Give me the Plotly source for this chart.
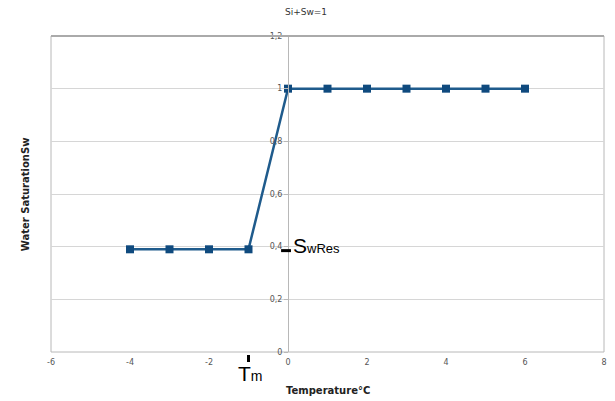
import plotly.graph_objects as go

# Data
temps = [-4, -3, -2, -1, 0, 1, 2, 3, 4, 5, 6]
sw = [0.39, 0.39, 0.39, 0.39, 1, 1, 1, 1, 1, 1, 1]

x_ticks = [-6, -4, -2, 0, 2, 4, 6, 8]
y_ticks = [0, 0.2, 0.4, 0.6, 0.8, 1, 1.2]
y_ticktext = ["0", "0,2", "0,4", "0,6", "0,8", "1", "1,2"]

title_text = "Si+Sw=1"
x_title = "Temperature°C"
y_title = "Water SaturationSw"
tm_x = -1
swres_y = 0.385

L, R, T, B = 51, 8, 36, 49
W, H = 615, 401
pw, ph = W - L - R, H - T - B

fig = go.Figure()
fig.add_trace(go.Scatter(
    x=temps, y=sw, mode="lines+markers",
    line=dict(color="#1f5b8c", width=2.5),
    marker=dict(symbol="square", size=8, color="#0f4a7e"),
    showlegend=False,
))

grid = "#d6d6d6"
frame = "#b8b8b8"
tickfont = dict(family="DejaVu Sans", size=8, color="#555555")

fig.update_layout(
    width=W, height=H,
    margin=dict(l=L, r=R, t=T, b=B),
    paper_bgcolor="white", plot_bgcolor="white",
    xaxis=dict(
        range=[-6, 8], tickvals=x_ticks, ticktext=[str(v) for v in x_ticks],
        showgrid=False, zeroline=False, showline=False,
        tickfont=tickfont, ticks="", ticklabelstandoff=4,
    ),
    yaxis=dict(
        range=[0, 1.2], tickvals=y_ticks, ticktext=y_ticktext,
        showgrid=True, gridcolor=grid, gridwidth=1, zeroline=False,
        anchor="free", position=6 / 14, showline=True, linecolor=frame,
        ticks="outside", ticklen=4, tickcolor=frame,
        tickfont=tickfont,
    ),
    shapes=[
        dict(type="rect", xref="paper", yref="paper", x0=0, x1=1, y0=0, y1=1,
             line=dict(color=frame, width=1), layer="below"),
        dict(type="line", xref="paper", yref="paper", x0=0, x1=1, y0=1, y1=1,
             line=dict(color="#aaaaaa", width=2)),
        dict(type="line", xref="x", yref="paper", x0=tm_x, x1=tm_x,
             y0=-3 / ph, y1=-10 / ph, line=dict(color="black", width=3)),
        dict(type="line", xref="x", yref="y", x0=-0.175, x1=0.075,
             y0=swres_y, y1=swres_y, line=dict(color="black", width=3)),
    ],
    annotations=[
        dict(text=title_text, xref="paper", yref="paper", x=(307 - L) / pw,
             y=1 + (T - 12) / ph, showarrow=False, xanchor="center", yanchor="middle",
             font=dict(family="DejaVu Sans", size=9, color="#333333")),
        dict(text="<b>" + x_title + "</b>", xref="paper", yref="paper",
             x=(330 - L) / pw, y=-(390 - (H - B)) / ph, showarrow=False,
             xanchor="center", yanchor="middle",
             font=dict(family="DejaVu Sans", size=10, color="#222222")),
        dict(text="<b>" + y_title + "</b>", xref="paper", yref="paper",
             x=(25 - L) / pw, y=0.5, textangle=-90, showarrow=False,
             xanchor="center", yanchor="middle",
             font=dict(family="DejaVu Sans", size=10, color="#222222")),
        dict(text="T<span style='font-size:14px'>m</span>", xref="x", yref="paper",
             x=tm_x + 0.05, y=-(373 - (H - B)) / ph, showarrow=False,
             xanchor="center", yanchor="middle",
             font=dict(family="Liberation Sans", size=21, color="black")),
        dict(text="S<span style='font-size:13px'>wRes</span>", xref="x", yref="y",
             x=0.08, y=0.405, showarrow=False, xanchor="left", yanchor="middle",
             font=dict(family="Liberation Sans", size=21, color="black")),
    ],
)

fig.write_html("out.html")
